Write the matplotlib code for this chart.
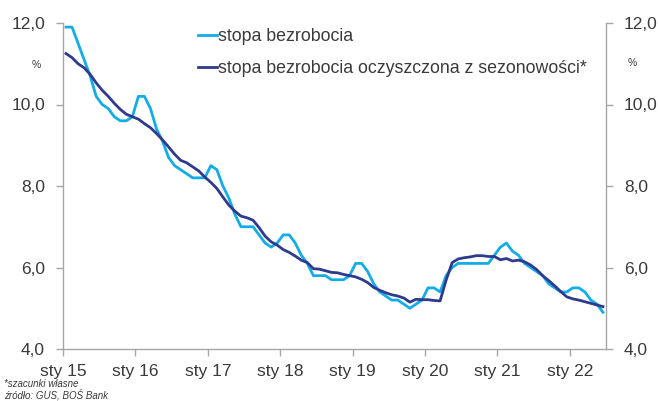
import numpy as np
import matplotlib
matplotlib.use("Agg")
import matplotlib.pyplot as plt

plt.rcParams['font.family'] = ['Liberation Sans', 'DejaVu Sans']

# Monthly data Jan 2015 - Jun 2022
stopa = [
    11.9, 11.9, 11.5, 11.1, 10.7, 10.2, 10.0, 9.9, 9.7, 9.6, 9.6, 9.7,   # 2015
    10.2, 10.2, 9.9, 9.4, 9.1, 8.7, 8.5, 8.4, 8.3, 8.2, 8.2, 8.2,        # 2016
    8.5, 8.4, 8.0, 7.7, 7.3, 7.0, 7.0, 7.0, 6.8, 6.6, 6.5, 6.6,          # 2017
    6.8, 6.8, 6.6, 6.3, 6.1, 5.8, 5.8, 5.8, 5.7, 5.7, 5.7, 5.8,          # 2018
    6.1, 6.1, 5.9, 5.6, 5.4, 5.3, 5.2, 5.2, 5.1, 5.0, 5.1, 5.2,          # 2019
    5.5, 5.5, 5.4, 5.8, 6.0, 6.1, 6.1, 6.1, 6.1, 6.1, 6.1, 6.3,          # 2020
    6.5, 6.6, 6.4, 6.3, 6.1, 6.0, 5.9, 5.8, 5.6, 5.5, 5.4, 5.4,          # 2021
    5.5, 5.5, 5.4, 5.2, 5.1, 4.9,                                        # 2022
]
stopa_sa = [
    11.25, 11.15, 11.0, 10.9, 10.74, 10.53, 10.35, 10.2, 10.03, 9.88, 9.76, 9.7,
    9.64, 9.53, 9.43, 9.29, 9.13, 8.96, 8.78, 8.63, 8.57, 8.47, 8.37, 8.22,
    8.09, 7.94, 7.73, 7.53, 7.38, 7.26, 7.22, 7.16, 6.98, 6.77, 6.63, 6.55,
    6.44, 6.37, 6.28, 6.18, 6.12, 5.97, 5.96, 5.92, 5.88, 5.87, 5.83, 5.80,
    5.77, 5.71, 5.63, 5.51, 5.44, 5.38, 5.33, 5.30, 5.25, 5.15, 5.22, 5.21,
    5.21, 5.19, 5.18, 5.69, 6.12, 6.21, 6.24, 6.26, 6.29, 6.29, 6.27, 6.27,
    6.19, 6.22, 6.16, 6.18, 6.14, 6.06, 5.95, 5.80, 5.68, 5.55, 5.41, 5.28,
    5.23, 5.20, 5.16, 5.12, 5.08, 5.04,
]
x_labels = ['sty 15', 'sty 16', 'sty 17', 'sty 18', 'sty 19', 'sty 20', 'sty 21', 'sty 22']
y_ticks = [4.0, 6.0, 8.0, 10.0, 12.0]
series_names = ['stopa bezrobocia', 'stopa bezrobocia oczyszczona z sezonowości*']

light = '#12ADE9'
dark = '#2E3A8E'
spine_c = '#A6A6A6'
text_c = '#3A3A3A'

fig = plt.figure(figsize=(6.58, 4.01), dpi=100)
ax = fig.add_axes([63/658, 52/401, (606-63)/658, (349-23)/401])

months = np.arange(len(stopa)) + 0.5
ax.plot(months, stopa, color=light, lw=2.0, label=series_names[0], solid_joinstyle='round')
ax.plot(months, stopa_sa, color=dark, lw=2.0, label=series_names[1], solid_joinstyle='round')

ax.set_xlim(0, 90)
ax.set_ylim(4, 12)
ax.set_xticks(np.arange(len(x_labels)) * 12)
ax.set_xticklabels(x_labels)
ax.set_yticks(y_ticks)
ax.set_yticklabels([f'{v:.1f}'.replace('.', ',') for v in y_ticks])

for s in ['left', 'bottom', 'right']:
    ax.spines[s].set_color(spine_c)
    ax.spines[s].set_linewidth(1.0)
ax.spines['top'].set_visible(False)

ax.tick_params(axis='both', colors=spine_c, labelcolor=text_c, labelsize=12.5,
               length=5, width=1.0, direction='out')
ax.tick_params(axis='y', pad=8)
ax.tick_params(axis='x', pad=6)
ax.tick_params(axis='y', which='both', right=True, labelright=True)

ax.text((36-63)/543, (349-65)/326, '%', transform=ax.transAxes,
        fontsize=7.5, color=text_c, ha='center', va='center')
ax.text((632-63)/543, (349-63)/326, '%', transform=ax.transAxes,
        fontsize=7.5, color=text_c, ha='center', va='center')

leg = ax.legend(loc='upper left', bbox_to_anchor=((198-63)/543, (349-28)/326),
                frameon=False, fontsize=12.8, handlelength=1.05, handletextpad=0.05,
                labelspacing=0.85, borderaxespad=0, borderpad=0)
for t in leg.get_texts():
    t.set_color(text_c)

fig.text(4/658, 1 - 384/401, '*szacunki własne', fontsize=7, style='italic',
         color=text_c, ha='left', va='center')
fig.text(4/658, 1 - 395/401, 'źródło: GUS, BOŚ Bank', fontsize=7, style='italic',
         color=text_c, ha='left', va='center')

fig.savefig('out.png', dpi=100)
